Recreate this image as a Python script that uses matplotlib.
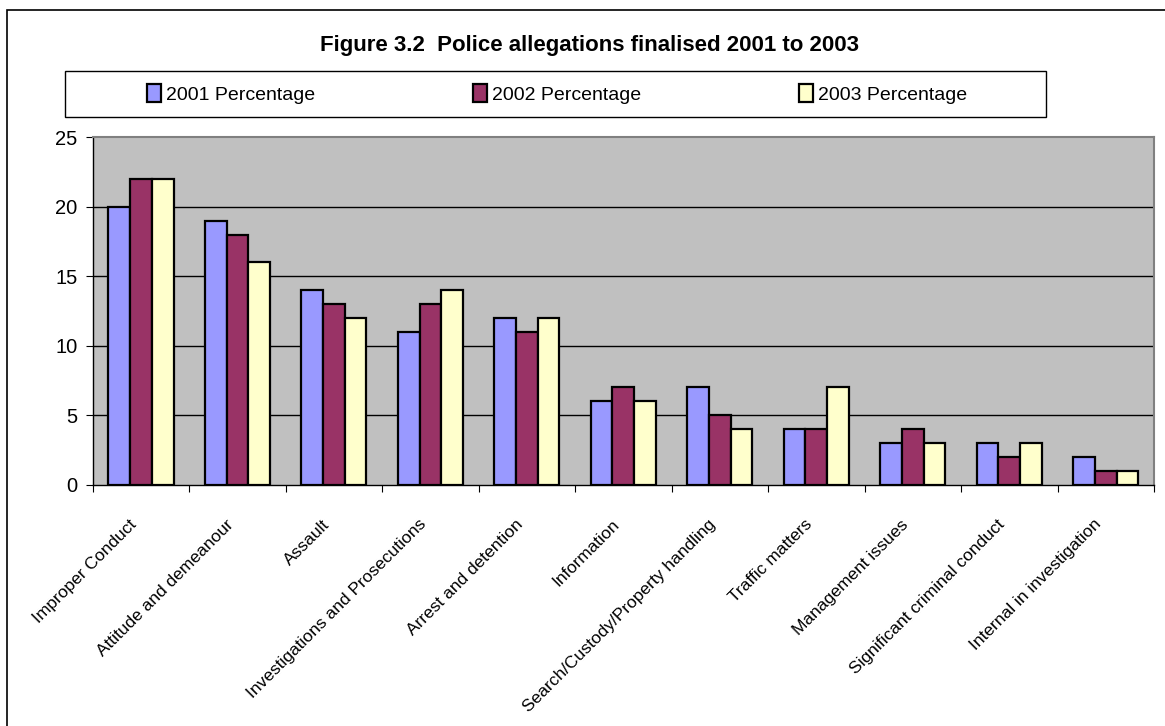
import matplotlib
matplotlib.use("Agg")
import matplotlib.pyplot as plt
from matplotlib.patches import Rectangle
import numpy as np

categories = ["Improper Conduct", "Attitude and demeanour", "Assault",
              "Investigations and Prosecutions", "Arrest and detention",
              "Information", "Search/Custody/Property handling",
              "Traffic matters", "Management issues",
              "Significant criminal conduct", "Internal in investigation"]
pct_2001 = [20, 19, 14, 11, 12, 6, 7, 4, 3, 3, 2]
pct_2002 = [22, 18, 13, 13, 11, 7, 5, 4, 4, 2, 1]
pct_2003 = [22, 16, 12, 14, 12, 6, 4, 7, 3, 3, 1]
series_names = ["2001 Percentage", "2002 Percentage", "2003 Percentage"]
colors = ["#9999FF", "#993366", "#FFFFCC"]
yticks = [0, 5, 10, 15, 20, 25]

plt.rcParams['font.family'] = ['Liberation Sans', 'DejaVu Sans']

W, H = 1165, 726
fig = plt.figure(figsize=(W / 100, H / 100), dpi=100)
fig.patch.set_facecolor("white")

# outer chart frame
fig.patches.append(Rectangle((7 / W, -0.1), 1.2, 1 - 10 / H + 0.1,
                             transform=fig.transFigure, fill=False,
                             edgecolor="black", linewidth=1.2))

left, right, top, bottom = 92.7, 1154, 137.3, 484.5
ax = fig.add_axes([left / W, 1 - bottom / H, (right - left) / W, (bottom - top) / H])
ax.set_facecolor("#C0C0C0")

x = np.arange(len(categories))
w = 0.225
data = [pct_2001, pct_2002, pct_2003]
handles = []
for i, (vals, c, name) in enumerate(zip(data, colors, series_names)):
    b = ax.bar(x + (i - 1) * w, vals, width=w, color=c, edgecolor="black",
               linewidth=1.6, label=name, zorder=3)
    handles.append(b)

ax.set_xlim(-0.5, len(categories) - 0.5)
ax.set_ylim(0, 25)
ax.set_yticks(yticks)
ax.set_yticklabels([str(t) for t in yticks], fontsize=14.5)
for t in yticks[1:-1]:
    ax.axhline(t, color="black", linewidth=1.0, zorder=1)

ax.set_xticks(np.arange(len(categories) + 1) - 0.5)
ax.set_xticklabels([])
label_offset = -0.07
ax.set_xticks(x + label_offset, minor=True)
ax.set_xticklabels(categories, minor=True, rotation=45,
                   ha="right", va="center", rotation_mode="anchor", fontsize=12.5)
ax.tick_params(axis="x", which="minor", length=0, pad=27)
ax.tick_params(axis="x", which="major", length=5, direction="out", color="black")
ax.tick_params(axis="y", length=5, pad=6, direction="out", color="black")

for s in ["left", "bottom"]:
    ax.spines[s].set_color("black")
    ax.spines[s].set_linewidth(1.0)
for s in ["top", "right"]:
    ax.spines[s].set_color("#808080")
    ax.spines[s].set_linewidth(1.5)

fig.text(589.5 / W, 1 - 46 / H, "Figure 3.2  Police allegations finalised 2001 to 2003",
         ha="center", va="center", fontsize=16, fontweight="bold")

# legend box
fig.patches.append(Rectangle((65 / W, 1 - 117 / H), (1046 - 65) / W, (117 - 71) / H,
                             transform=fig.transFigure, fill=False,
                             edgecolor="black", linewidth=1.0))
fig.legend(handles=handles, labels=series_names, loc="center",
           bbox_to_anchor=(557 / W, 1 - 94 / H), ncol=3, frameon=False,
           fontsize=14, handlelength=0.75, handleheight=1.0,
           handletextpad=0.25, columnspacing=8.1)

fig.savefig("out.png", dpi=100)
